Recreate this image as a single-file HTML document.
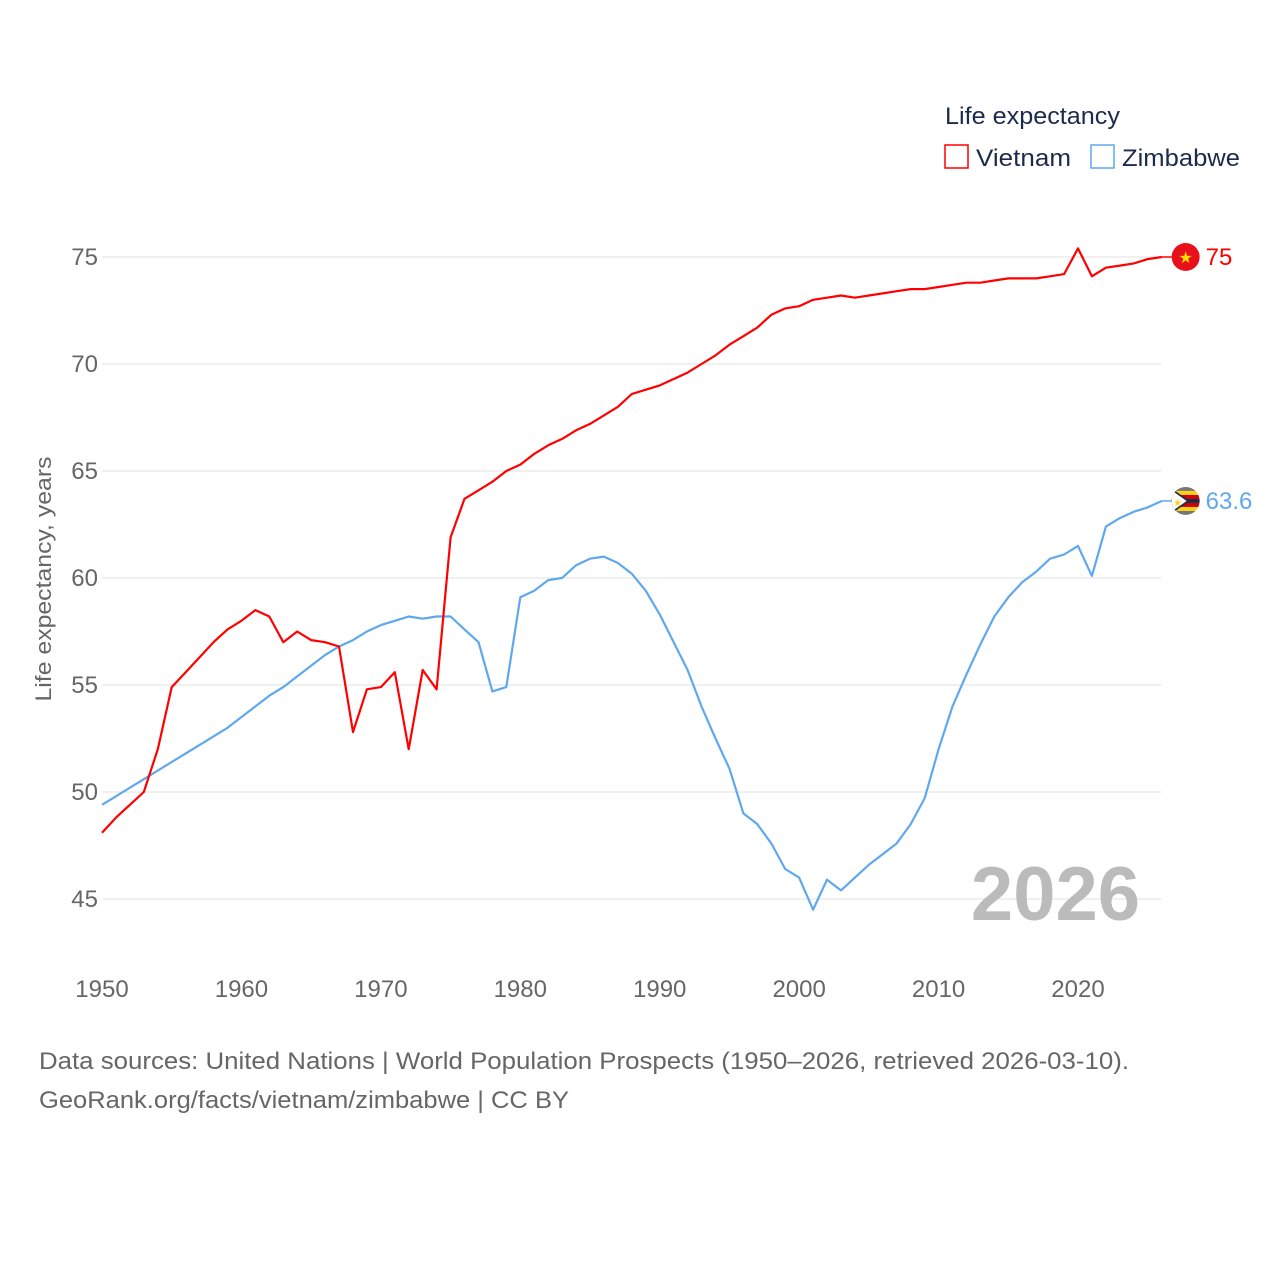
<!DOCTYPE html>
<html><head><meta charset="utf-8"><style>
body{margin:0;background:#fff;font-family:"Liberation Sans",sans-serif}
svg text{font-family:"Liberation Sans",sans-serif}
</style></head><body>
<svg id="chart" width="1280" height="1280" viewBox="0 0 1280 1280" xmlns="http://www.w3.org/2000/svg">
<defs><clipPath id="zclip"><circle cx="1186" cy="500" r="14"/></clipPath></defs>
<rect width="1280" height="1280" fill="#fff"/>
<g id="grid"></g>
<g id="yticks"></g>
<g id="xticks"></g>
<text transform="translate(51,579) rotate(-90)" text-anchor="middle" font-size="22" fill="#666" textLength="245" lengthAdjust="spacingAndGlyphs">Life expectancy, years</text>
<text x="1140" y="920" text-anchor="end" font-size="76" font-weight="bold" fill="#bbb">2026</text>
<g id="series"></g>
<g>
<text x="945" y="124" font-size="24" fill="#1d2b4a" textLength="175" lengthAdjust="spacingAndGlyphs">Life expectancy</text>
<g><rect x="945" y="145" width="23" height="23" fill="none" stroke="#f00" stroke-width="1.5"/><text x="976" y="166" font-size="24" fill="#1d2b4a" textLength="95" lengthAdjust="spacingAndGlyphs">Vietnam</text></g>
<g><rect x="1091" y="145" width="23" height="23" fill="none" stroke="#5fa8ee" stroke-width="1.5"/><text x="1122" y="166" font-size="24" fill="#1d2b4a" textLength="118" lengthAdjust="spacingAndGlyphs">Zimbabwe</text></g>
</g>
<text x="39" y="1069" font-size="24" fill="#666" textLength="1090" lengthAdjust="spacingAndGlyphs">Data sources: United Nations | World Population Prospects (1950–2026, retrieved 2026-03-10).</text>
<text x="39" y="1108" font-size="24" fill="#666" textLength="530" lengthAdjust="spacingAndGlyphs">GeoRank.org/facts/vietnam/zimbabwe | CC BY</text>
</svg>
<script>
const years=[];for(let y=1950;y<=2026;y++)years.push(y);
const yTicks=[45,50,55,60,65,70,75];
const xTicks=[1950,1960,1970,1980,1990,2000,2010,2020];
const vietnam=[48.1,48.8,49.4,50.0,52.0,54.9,55.6,56.3,57.0,57.6,58.0,58.5,58.2,57.0,57.5,57.1,57.0,56.8,52.8,54.8,54.9,55.6,52.0,55.7,54.8,61.9,63.7,64.1,64.5,65.0,65.3,65.8,66.2,66.5,66.9,67.2,67.6,68.0,68.6,68.8,69.0,69.3,69.6,70.0,70.4,70.9,71.3,71.7,72.3,72.6,72.7,73.0,73.1,73.2,73.1,73.2,73.3,73.4,73.5,73.5,73.6,73.7,73.8,73.8,73.9,74.0,74.0,74.0,74.1,74.2,75.4,74.1,74.5,74.6,74.7,74.9,75.0];
const zimbabwe=[49.4,49.8,50.2,50.6,51.0,51.4,51.8,52.2,52.6,53.0,53.5,54.0,54.5,54.9,55.4,55.9,56.4,56.8,57.1,57.5,57.8,58.0,58.2,58.1,58.2,58.2,57.6,57.0,54.7,54.9,59.1,59.4,59.9,60.0,60.6,60.9,61.0,60.7,60.2,59.4,58.3,57.0,55.7,54.0,52.5,51.1,49.0,48.5,47.6,46.4,46.0,44.5,45.9,45.4,46.0,46.6,47.1,47.6,48.5,49.7,52.0,54.0,55.5,56.9,58.2,59.1,59.8,60.3,60.9,61.1,61.5,60.1,62.4,62.8,63.1,63.3,63.6];
const X=v=>102+(v-1950)*(976/70);
const Y=v=>257+(75-v)*21.4;
const NS="http://www.w3.org/2000/svg";
function mk(t,a,p){const e=document.createElementNS(NS,t);for(const k in a)e.setAttribute(k,a[k]);p.appendChild(e);return e;}
const grid=document.getElementById('grid'),yt=document.getElementById('yticks'),xt=document.getElementById('xticks'),ser=document.getElementById('series');
yTicks.forEach(v=>{
 const l=mk('line',{x1:102,x2:1161,y1:Y(v),y2:Y(v),stroke:'#e6e6e6','stroke-width':1.2},grid);
 
 
 const t=mk('text',{x:98,y:Y(v)+8,'text-anchor':'end','font-size':24,fill:'#666'},yt);t.textContent=v;
 
 
});
xTicks.forEach(v=>{
 const t=mk('text',{x:X(v),y:997,'text-anchor':'middle','font-size':24,fill:'#666'},xt);t.textContent=v;
 
 
});
function line(data,color,name){
 const d=data.map((v,i)=>(i?'L':'M')+X(years[i]).toFixed(1)+','+Y(v).toFixed(1)).join('');
 const p=mk('path',{d:d,fill:'none',stroke:color,'stroke-width':2.2,'stroke-linejoin':'round'},ser);
 
 
 const last=data[data.length-1],lx=X(years[years.length-1]),ly=Y(last);
 mk('line',{x1:lx,x2:lx+12,y1:ly,y2:ly,stroke:color,'stroke-width':1.5},ser);
 const cx=lx+24;
 if(name==='vietnam'){
  const c=mk('circle',{cx:cx,cy:ly,r:14,fill:'#e8111b'},ser);
  
  
  const s=mk('text',{x:cx,y:ly+6,'text-anchor':'middle','font-size':16,fill:'#ffde00'},ser);s.textContent='★';
 } else {
  const g=mk('g',{transform:`translate(${cx-1186},${ly-500})`},ser);
  
  
  const gg=mk('g',{'clip-path':'url(#zclip)'},g);
  [['#777',-14],['#fcd116',-10],['#d40000',-6],['#1d2b4a',-2],['#d40000',2],['#fcd116',6],['#777',10]].forEach(([f,o])=>mk('rect',{x:1170,y:500+o,width:32,height:4,fill:f},gg));
  mk('polygon',{points:`1170,486 1190,500 1170,514`,fill:'#1d2b4a'},gg);
  mk('polygon',{points:`1170,488 1187,500 1170,512`,fill:'#fff'},gg);
  const s=mk('text',{x:1178,y:505,'text-anchor':'middle','font-size':10,fill:'#fcd116'},gg);s.textContent='★';
 }
 const t=mk('text',{x:lx+44,y:ly+8,'font-size':24,fill:color},ser);t.textContent=last%1?last.toFixed(1):last;
 
 
}
line(zimbabwe,'#5fa8ee','zimbabwe');
line(vietnam,'#f00','vietnam');
</script>
</body></html>
